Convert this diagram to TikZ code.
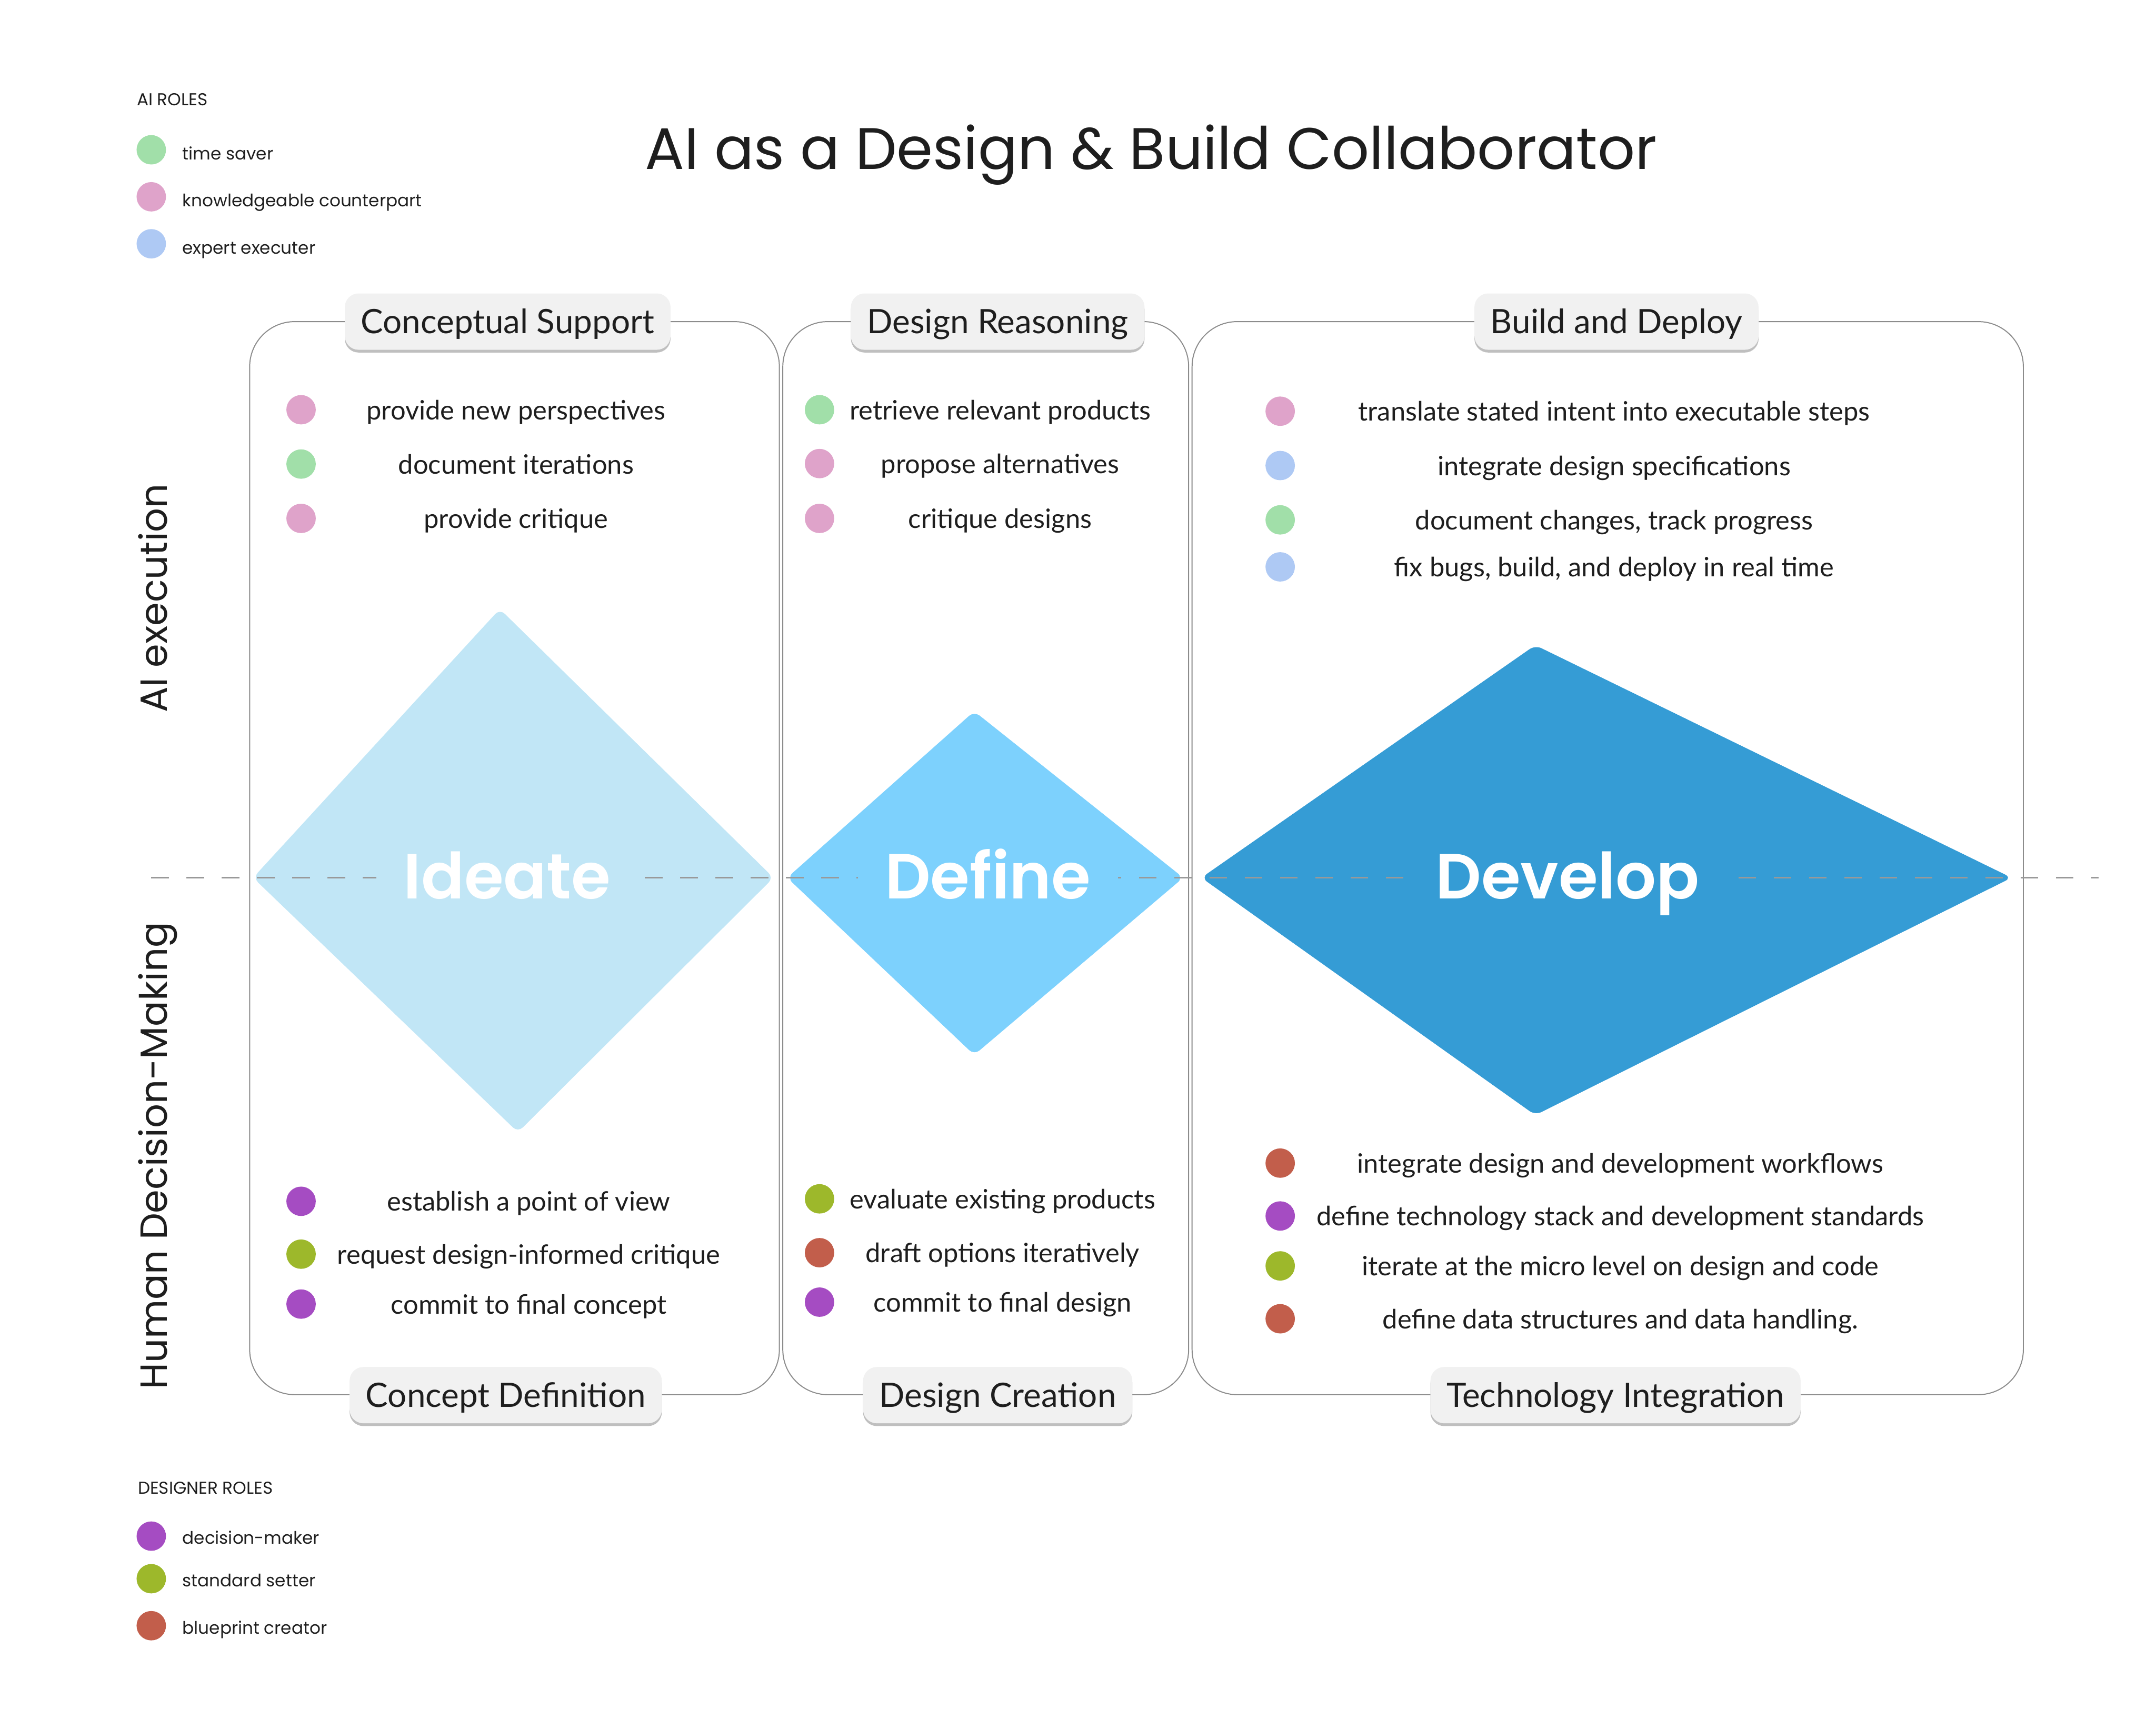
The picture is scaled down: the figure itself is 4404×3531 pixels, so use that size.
\documentclass[tikz,border=0pt]{standalone}
\usepackage{fontspec}
\setmainfont{Lato}
\newfontfamily\headfont{Poppins}
\newfontfamily\phasefont{Poppins SemiBold}
\usetikzlibrary{positioning, calc, shadows}
\definecolor{ink}{HTML}{1E1E1E}
\definecolor{saver}{HTML}{A1DFA9}
\definecolor{counterpart}{HTML}{DFA3CA}
\definecolor{executer}{HTML}{AEC9F4}
\definecolor{decider}{HTML}{A54CC2}
\definecolor{setter}{HTML}{9DB82B}
\definecolor{creator}{HTML}{C25E4B}
\definecolor{ideatefill}{HTML}{C1E6F6}
\definecolor{definefill}{HTML}{7DD1FD}
\definecolor{developfill}{HTML}{359CD5}
\definecolor{tabfill}{HTML}{F1F1F1}

\begin{document}
\begin{tikzpicture}[
    x=0.01cm, y=-0.01cm,
    panel/.style={draw=black!45, line width=0.6pt, rounded corners=0.92cm},
    tab/.style={fill=tabfill, rounded corners=0.28cm, minimum height=1.15cm, inner xsep=0.33cm,
      text height=0.49cm, text depth=0cm, text=ink, font=\fontsize{19.5}{22}\selectfont,
      drop shadow={shadow xshift=0pt, shadow yshift=-1.6pt, fill=black!25, opacity=1}},
    dot/.style={circle, minimum size=0.6cm, inner sep=0},
    item/.style={text height=0.4cm, text depth=0cm, text=ink, font=\fontsize{15.5}{18}\selectfont},
    legend/.style={anchor=west, inner xsep=0, text height=0.25cm, text depth=0cm, text=ink, font=\headfont\fontsize{10}{12}\selectfont},
    side/.style={rotate=90, text height=0.56cm, text depth=0cm, text=ink, font=\headfont\fontsize{22}{25}\selectfont},
    phase/.style={anchor=base, text=white, inner xsep=0.55cm, inner ysep=0.05cm, font=\phasefont\fontsize{37}{40}\selectfont},
    axis/.style={draw=black!40, line width=0.8pt, dash pattern=on 0.36cm off 0.36cm}
]
\useasboundingbox (0,0) rectangle (4404,3531);

% title and role legends
\node[anchor=base, text=ink, font=\headfont\fontsize{34}{38}\selectfont] (title) at (2351,346) {AI as a Design \& Build Collaborator};
\node[legend] (airoles) at (279,203) {AI ROLES};
\foreach \y/\c/\t [count=\i] in {306/saver/time saver, 402/counterpart/knowledgeable counterpart, 498/executer/expert executer} {
  \node[dot, fill=\c] (aid\i) at (309,\y) {};
  \node[legend] (ail\i) at (372,\y+8) {\t};
}
\node[legend] (desroles) at (281,3039) {DESIGNER ROLES};
\foreach \y/\c/\t [count=\i] in {3138/decider/decision-maker, 3225/setter/standard setter, 3321/creator/blueprint creator} {
  \node[dot, fill=\c] (dsd\i) at (309,\y) {};
  \node[legend] (dsl\i) at (372,\y+4) {\t};
}

% side labels
\node[side] (aiexec) at (313,1222) {AI execution};
\node[side] (human) at (313,2361) {Human Decision-Making};

% panels
\draw[panel] (510,657) rectangle (1592,2849);
\draw[panel] (1599,657) rectangle (2428,2849);
\draw[panel] (2435,657) rectangle (4133,2849);

% diamonds
\fill[ideatefill, rounded corners=0.14cm] (1021,1244) -- (1580,1793) -- (1058,2313) -- (517,1793) -- cycle;
\fill[definefill, rounded corners=0.14cm] (1990,1453) -- (2417,1793) -- (1990,2155) -- (1608,1793) -- cycle;
\fill[developfill, rounded corners=0.14cm] (3136,1318) -- (4109,1793) -- (3136,2278) -- (2454,1793) -- cycle;

% horizontal axis
\coordinate (axisL) at (309,1793);
\coordinate (axisR) at (4287,1793);
\draw[axis] (axisL) -- (axisR);

\node[phase, fill=ideatefill] (ideate) at (1036,1836) {Ideate};
\node[phase, fill=definefill] (define) at (2018,1836) {Define};
\node[phase, fill=developfill] (develop) at (3202,1836) {Develop};

% tabs
\node[tab] (cs) at (1037,657) {Conceptual Support};
\node[tab] (dr) at (2038,657) {Design Reasoning};
\node[tab] (bd) at (3302,657) {Build and Deploy};
\node[tab] (cd) at (1033,2850) {Concept Definition};
\node[tab] (dc) at (2038,2850) {Design Creation};
\node[tab] (ti) at (3300,2850) {Technology Integration};

% conceptual support / concept definition
\foreach \y/\c/\t [count=\i] in {837/counterpart/provide new perspectives, 948/saver/document iterations, 1059/counterpart/provide critique} {
  \node[dot, fill=\c] (csd\i) at (615,\y) {};
  \node[item] (cst\i) at (1054,\y) {\t};
}
\foreach \y/\c/\t [count=\i] in {2454/decider/establish a point of view, 2562/setter/request design-informed critique, 2664/decider/commit to final concept} {
  \node[dot, fill=\c] (cdd\i) at (615,\y) {};
  \node[item] (cdt\i) at (1080,\y) {\t};
}

% design reasoning / design creation
\foreach \y/\c/\t [count=\i] in {837/saver/retrieve relevant products, 947/counterpart/propose alternatives, 1059/counterpart/critique designs} {
  \node[dot, fill=\c] (drd\i) at (1674,\y) {};
  \node[item] (drt\i) at (2043,\y) {\t};
}
\foreach \y/\c/\t [count=\i] in {2449/setter/evaluate existing products, 2559/creator/draft options iteratively, 2660/decider/commit to final design} {
  \node[dot, fill=\c] (dcd\i) at (1674,\y) {};
  \node[item] (dct\i) at (2048,\y) {\t};
}

% build and deploy / technology integration
\foreach \y/\c/\t [count=\i] in {840/counterpart/translate stated intent into executable steps, 951/executer/integrate design specifications, 1062/saver/{document changes, track progress}, 1158/executer/{fix bugs, build, and deploy in real time}} {
  \node[dot, fill=\c] (bdd\i) at (2615,\y) {};
  \node[item] (bdt\i) at (3297,\y) {\t};
}
\foreach \y/\c/\t [count=\i] in {2376/creator/integrate design and development workflows, 2484/decider/define technology stack and development standards, 2586/setter/iterate at the micro level on design and code, 2694/creator/define data structures and data handling.} {
  \node[dot, fill=\c] (tid\i) at (2615,\y) {};
  \node[item] (tit\i) at (3310,\y) {\t};
}
\end{tikzpicture}
\end{document}
